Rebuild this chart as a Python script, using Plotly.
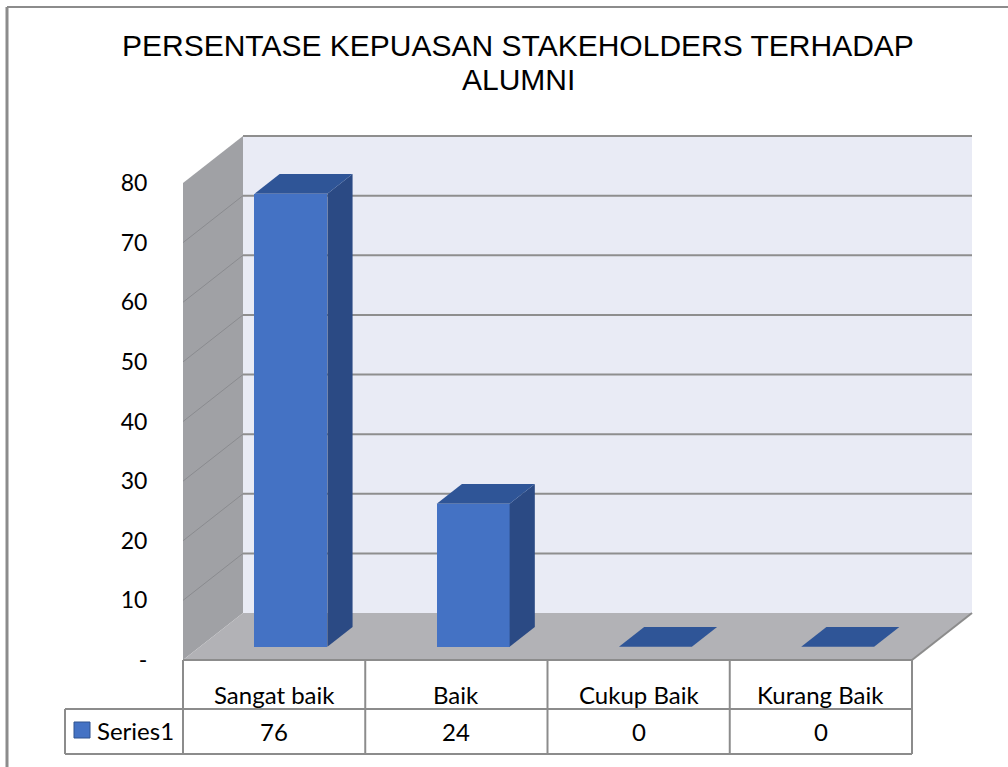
import plotly.graph_objects as go

# ---------------- data ----------------
categories = ["Sangat baik", "Baik", "Cukup Baik", "Kurang Baik"]
values = [76, 24, 0, 0]
series_name = "Series1"
title_lines = ["PERSENTASE KEPUASAN STAKEHOLDERS TERHADAP", "ALUMNI"]
tick_vals = [0, 10, 20, 30, 40, 50, 60, 70, 80]
tick_text = ["-", "10", "20", "30", "40", "50", "60", "70", "80"]
value_max = 80

# ---------------- layout constants (pixels) ----------------
W, H = 1008, 767
X0_PX, Y0_PX = 183, 660          # front-left-bottom corner of plot floor
PX_PER_CAT = 182.25              # width of one category on the front plane
PX_PER_VAL = 477 / value_max     # pixels per value unit
DEPTH_DX_PX, DEPTH_DY_PX = 60, 47

DX = DEPTH_DX_PX / PX_PER_CAT    # depth offset in category units
DY = DEPTH_DY_PX / PX_PER_VAL    # depth offset in value units
T0, T1 = 0.28, 0.70              # bar front/back depth fractions
BAR_W = 0.4

def px2x(px):
    return (px - X0_PX) / PX_PER_CAT

def py2y(py):
    return (Y0_PX - py) / PX_PER_VAL

n = len(categories)

BACK = "#e9ebf5"
LEFT = "#a0a1a5"
FLOOR = "#b2b2b6"
GRID = "#8e8e8e"
FRONT = "#4472c4"
TOP = "#2f5597"
SIDE = "#2b4a84"
BORDER = "#8c8c8c"

fig = go.Figure()
shapes = []

# back wall
shapes.append(dict(type="rect", xref="x", yref="y", x0=DX, x1=n + DX, y0=DY, y1=value_max + DY,
                   fillcolor=BACK, line=dict(width=0), layer="below"))
# left wall
shapes.append(dict(type="path", xref="x", yref="y",
                   path=f"M 0,0 L 0,{value_max} L {DX},{value_max + DY} L {DX},{DY} Z",
                   fillcolor=LEFT, line=dict(width=0), layer="below"))
# floor
shapes.append(dict(type="path", xref="x", yref="y",
                   path=f"M 0,0 L {n},0 L {n + DX},{DY} L {DX},{DY} Z",
                   fillcolor=FLOOR, line=dict(width=0), layer="below"))
# floor right edge
shapes.append(dict(type="line", xref="x", yref="y", x0=n, y0=0, x1=n + DX, y1=DY,
                   line=dict(color=BORDER, width=2), layer="below"))
# gridlines
for v in tick_vals[1:]:
    shapes.append(dict(type="line", xref="x", yref="y", x0=DX, x1=n + DX, y0=v + DY, y1=v + DY,
                       line=dict(color=GRID, width=2), layer="below"))
    if v < value_max:
        shapes.append(dict(type="line", xref="x", yref="y", x0=0, x1=DX, y0=v, y1=v + DY,
                           line=dict(color="#8a8b8f", width=1), layer="below"))

# ---------------- bars ----------------
centers = [i + 0.5 for i in range(n)]
fig.add_trace(go.Bar(x=[c + T0 * DX for c in centers], y=values, base=T0 * DY, width=BAR_W,
                     marker=dict(color=FRONT, line=dict(width=0)), showlegend=False,
                     hoverinfo="skip"))
for c, v in zip(centers, values):
    xl, xr = c - BAR_W / 2, c + BAR_W / 2
    if v > 0:
        # side face
        fig.add_trace(go.Scatter(
            x=[xr + T0 * DX, xr + T1 * DX, xr + T1 * DX, xr + T0 * DX],
            y=[T0 * DY, T1 * DY, T1 * DY + v, T0 * DY + v],
            fill="toself", fillcolor=SIDE, mode="lines", line=dict(width=0),
            showlegend=False, hoverinfo="skip"))
    # top face
    fig.add_trace(go.Scatter(
        x=[xl + T0 * DX, xr + T0 * DX, xr + T1 * DX, xl + T1 * DX],
        y=[T0 * DY + v, T0 * DY + v, T1 * DY + v, T1 * DY + v],
        fill="toself", fillcolor=TOP, mode="lines", line=dict(width=0),
        showlegend=False, hoverinfo="skip"))

# ---------------- data table ----------------
row_top, row_mid, row_bot = 0, py2y(709), py2y(754)
leg_left = px2x(65)
shapes.append(dict(type="line", xref="x", yref="y", x0=0, x1=n, y0=row_top, y1=row_top,
                   line=dict(color=BORDER, width=2)))
shapes.append(dict(type="line", xref="x", yref="y", x0=leg_left, x1=n, y0=row_mid, y1=row_mid,
                   line=dict(color=BORDER, width=2)))
shapes.append(dict(type="line", xref="x", yref="y", x0=leg_left, x1=n, y0=row_bot, y1=row_bot,
                   line=dict(color=BORDER, width=2)))
shapes.append(dict(type="line", xref="x", yref="y", x0=leg_left, x1=leg_left, y0=row_mid, y1=row_bot,
                   line=dict(color=BORDER, width=2)))
for i in range(n + 1):
    shapes.append(dict(type="line", xref="x", yref="y", x0=i, x1=i, y0=row_top, y1=row_bot,
                       line=dict(color=BORDER, width=2)))
# legend key
shapes.append(dict(type="rect", xref="x", yref="y", x0=px2x(74), x1=px2x(90), y0=py2y(738), y1=py2y(722),
                   fillcolor=FRONT, line=dict(color="#2f528f", width=1)))

annotations = []
table_font = dict(family="Lato", size=24, color="#000000")
for c, cat, v in zip(centers, categories, values):
    annotations.append(dict(xref="x", yref="y", x=c, y=py2y(694), text=cat, showarrow=False,
                            xanchor="center", yanchor="middle", font=table_font))
    annotations.append(dict(xref="x", yref="y", x=c, y=py2y(731), text=str(v), showarrow=False,
                            xanchor="center", yanchor="middle", font=table_font))
annotations.append(dict(xref="x", yref="y", x=px2x(95), y=py2y(730), text=series_name, showarrow=False,
                        xanchor="left", yanchor="middle", font=table_font))

# title
title_font = dict(family="Liberation Sans, Arial", size=30, color="#000000")
for line, cy in zip(title_lines, [46, 79]):
    annotations.append(dict(xref="paper", yref="paper", x=518 / W, y=1 - cy / H, text=line,
                            showarrow=False, xanchor="center", yanchor="middle", font=title_font))

# chart border (top and left)
shapes.append(dict(type="line", xref="paper", yref="paper", x0=7 / W, x1=1, y0=1 - 7 / H, y1=1 - 7 / H,
                   line=dict(color=BORDER, width=2)))
shapes.append(dict(type="line", xref="paper", yref="paper", x0=7 / W, x1=7 / W, y0=0, y1=1 - 7 / H,
                   line=dict(color=BORDER, width=3)))

fig.update_layout(
    width=W, height=H,
    margin=dict(l=0, r=0, t=0, b=0, pad=0),
    paper_bgcolor="white", plot_bgcolor="white",
    shapes=shapes, annotations=annotations,
    showlegend=False,
    xaxis=dict(range=[px2x(0), px2x(W)], visible=False, fixedrange=True),
    yaxis=dict(range=[py2y(H), py2y(0)], anchor="free", position=X0_PX / W,
               tickvals=tick_vals, ticktext=tick_text, showgrid=False, zeroline=False,
               showline=False, ticks="outside", ticklen=31, tickcolor="rgba(0,0,0,0)",
               tickfont=dict(family="Lato", size=23, color="#000000"), fixedrange=True,
               automargin=False),
    bargap=0,
)

fig.write_html("out.html", config={"displayModeBar": False},
               post_script="document.body.style.margin='0px';")
